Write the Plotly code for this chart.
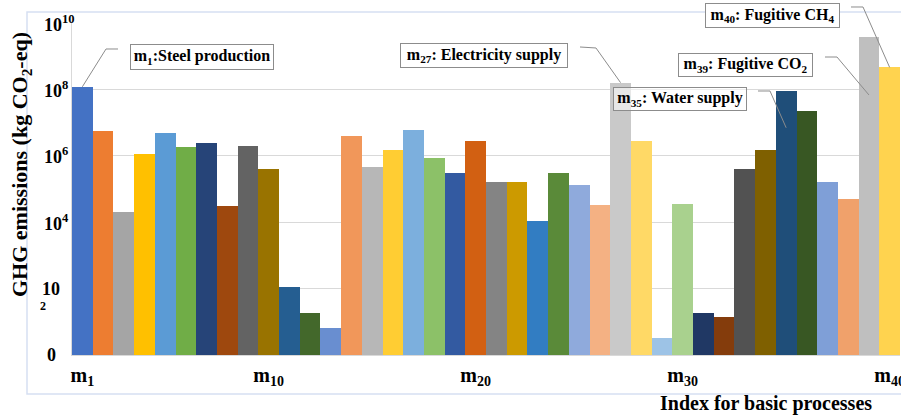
import math
import plotly.graph_objects as go

# ---------------- data ----------------
process_labels = ["m%d" % i for i in range(1, 41)]
process_index = list(range(1, 41))
ghg_emissions = [
    1.2e8, 5.5e6, 2.0e4, 1.1e6, 4.8e6, 1.8e6, 2.5e6, 3.1e4, 2.0e6, 4.1e5,
    110, 18, 6.5, 3.9e6, 4.6e5, 1.5e6, 5.9e6, 8.6e5, 3.1e5, 2.7e6,
    1.6e5, 1.6e5, 1.07e4, 3.0e5, 1.3e5, 3.2e4, 1.6e8, 2.8e6, 3.2, 3.5e4,
    18, 14, 3.9e5, 1.5e6, 9.1e7, 2.3e7, 1.66e5, 5.0e4, 3.9e9, 4.6e8,
]
bar_colors = [
    "#4472C4", "#ED7D31", "#A5A5A5", "#FFC000", "#5B9BD5", "#70AD47",
    "#264478", "#9E480E", "#636363", "#997300", "#255E91", "#43682B",
    "#698ED0", "#F1975A", "#B7B7B7", "#FFCD33", "#7CAFDD", "#8CC168",
    "#335AA1", "#D26012", "#848484", "#CC9A00", "#327DC2", "#5A8A39",
    "#8FAADC", "#F4B183", "#C9C9C9", "#FFD966", "#9DC3E6", "#A9D18E",
    "#203864", "#843C0C", "#525252", "#7F6000", "#1F4E79", "#385723",
    "#7F9FD7", "#F0A16B", "#BFBFBF", "#FFD34F",
]
x_tick_vals = [1, 10, 20, 30, 40]
x_tick_text = ["m<sub>1</sub>", "m<sub>10</sub>", "m<sub>20</sub>", "m<sub>30</sub>", "m<sub>40</sub>"]
y_tick_vals = [1, 1e2, 1e4, 1e6, 1e8, 1e10]
y_tick_text = ["0", "10", "10<sup>4</sup>", "10<sup>6</sup>", "10<sup>8</sup>", "10<sup>10</sup>"]

# callouts: (text, bar index, value where leader ends)
callout_text = [
    "m<sub>1</sub>:Steel production",
    "m<sub>27</sub>: Electricity supply",
    "m<sub>35</sub>: Water supply",
    "m<sub>39</sub>: Fugitive CO<sub>2</sub>",
    "m<sub>40</sub>: Fugitive CH<sub>4</sub>",
]
callout_bar = [1, 27, 35, 39, 40]
callout_end_value = [1.2e8, 1.6e8, 7.0e6, 6.8e7, 4.6e8]

# ---------------- layout geometry (pixels) ----------------
W, H = 901, 417
L, R, T, B = 72, 900, 23, 355
PW, PH = R - L, B - T


def px(x):
    return (x - L) / PW


def py(y):
    return (B - y) / PH


def bar_xp(i):
    return (i - 0.5) / len(process_index)


def val_yp(v):
    return math.log10(v) / 10.0


FONT = "Liberation Serif, Times New Roman, serif"

fig = go.Figure()
fig.add_trace(go.Bar(
    x=process_index, y=ghg_emissions,
    marker=dict(color=bar_colors, line=dict(width=0)),
    width=1.0, showlegend=False,
))

annotations = []
shapes = []

# y tick labels (left aligned like the original)
tick_x_px = [45, 40, 42, 42, 42, 42]
for v, t, xx in zip(y_tick_vals, y_tick_text, tick_x_px):
    annotations.append(dict(
        x=px(xx), xref="paper", y=val_yp(v), yref="paper",
        text="<b>%s</b>" % t, showarrow=False, xanchor="left", yanchor="middle",
        font=dict(family=FONT, size=18, color="black"),
    ))
annotations.append(dict(
    x=px(43), xref="paper", y=py(306), yref="paper", text="<b>2</b>",
    showarrow=False, xanchor="center", yanchor="middle",
    font=dict(family=FONT, size=12, color="black"),
))

# axis titles
annotations.append(dict(
    x=px(21), xref="paper", y=py(165), yref="paper",
    text="<b>GHG emissions (kg CO<sub>2</sub>-eq)</b>", textangle=-90,
    showarrow=False, xanchor="center", yanchor="middle",
    font=dict(family=FONT, size=22, color="black"),
))
annotations.append(dict(
    x=px(766), xref="paper", y=py(403), yref="paper",
    text="<b>Index for basic processes</b>",
    showarrow=False, xanchor="center", yanchor="middle",
    font=dict(family=FONT, size=20, color="black"),
))

# callout boxes and leader lines  (box: x0, x1, y0, y1 in pixels)
box_px = [(130, 274, 44, 70), (400, 568, 43, 68), (613, 747, 87, 111),
          (678, 813, 53, 77), (705, 840, 3, 28)]
leader_start_px = [(118, 49), (580, 47), (758, 91), (825, 57), (851, 7)]
leader_elbow_px = [(106, 49), (596, 48), (770, 91), (837, 57), (863, 7)]
box_bg = ["white", "white", "rgba(255,255,255,0.55)", "white", "white"]
PAD, BW = 2, 1
for txt, (x0, x1, y0, y1), (sx, sy), (ex, ey), bi, ev, bg in zip(
        callout_text, box_px, leader_start_px, leader_elbow_px,
        callout_bar, callout_end_value, box_bg):
    annotations.append(dict(
        x=px((x0 + x1) / 2), xref="paper", y=py((y0 + y1) / 2), yref="paper",
        text="<b>%s</b>" % txt, showarrow=False,
        xanchor="center", yanchor="middle", align="center",
        width=x1 - x0 - 2 * (PAD + BW), height=y1 - y0 - 2 * (PAD + BW),
        font=dict(family=FONT, size=16, color="black"),
        bgcolor=bg, bordercolor="#8C8C8C", borderwidth=BW, borderpad=PAD,
    ))
    shapes.append(dict(
        type="path", xref="paper", yref="paper",
        path="M %f %f L %f %f L %f %f" % (px(sx), py(sy), px(ex), py(ey), bar_xp(bi), val_yp(ev)),
        line=dict(color="#8C8C8C", width=1),
    ))

# outer chart border
shapes.append(dict(
    type="rect", xref="paper", yref="paper",
    x0=px(27), x1=px(906), y0=py(394), y1=py(12),
    line=dict(color="#D6E0F2", width=1.5), layer="below",
))

fig.update_layout(
    width=W, height=H,
    margin=dict(l=L, r=W - R, t=T, b=H - B, pad=0, autoexpand=False),
    paper_bgcolor="white", plot_bgcolor="white",
    bargap=0,
    xaxis=dict(
        range=[0.5, 40.5], tickvals=x_tick_vals, ticktext=x_tick_text,
        showgrid=False, zeroline=False, showline=True, linecolor="#D9D9D9",
        ticks="outside", ticklen=2, tickcolor="rgba(0,0,0,0)", automargin=False,
        ticklabeloverflow="allow",
        tickfont=dict(family=FONT, size=20, color="black", weight="bold"),
    ),
    yaxis=dict(
        type="log", range=[0, 10], tickvals=y_tick_vals, showticklabels=False,
        showgrid=True, gridcolor="#D9D9D9", gridwidth=1, zeroline=False,
        showline=True, linecolor="#D9D9D9", automargin=False,
    ),
    annotations=annotations, shapes=shapes,
)

fig.write_html(
    "out.html",
    config={"displayModeBar": False},
    post_script="document.body.style.margin='0';document.body.style.overflow='hidden';",
)
